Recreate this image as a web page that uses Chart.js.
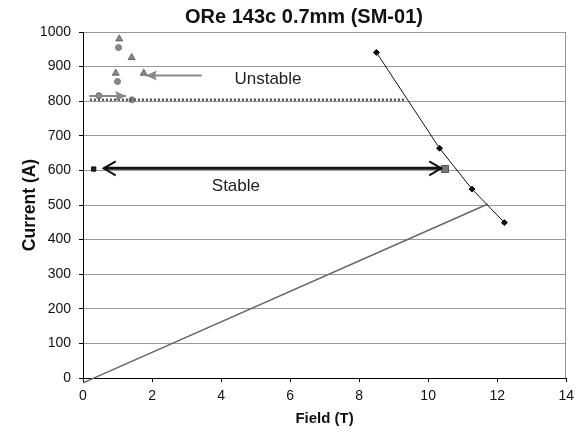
<!DOCTYPE html>
<html>
<head>
<meta charset="utf-8">
<script src="https://cdn.jsdelivr.net/npm/chart.js@4"></script>
<style>
html,body{margin:0;padding:0;background:#fff;}
#wrap{width:580px;height:436px;}
</style>
</head>
<body>
<div id="wrap"><canvas id="c" width="580" height="436"></canvas></div>
<script>
// ---- data ----
const xTicks = [0, 2, 4, 6, 8, 10, 12, 14];
const yTicks = [0, 100, 200, 300, 400, 500, 600, 700, 800, 900, 1000];

const criticalField = [8.5, 10.33, 11.27, 12.21];
const criticalCurrent = [941, 664, 546, 449];

const loadField = [0, 11.73];
const loadCurrent = [-14, 503];

const triField = [1.05, 1.41, 0.95, 1.76];
const triCurrent = [980, 926, 881, 881];

const circField = [1.03, 1.0, 0.46, 1.42];
const circCurrent = [955, 857, 816, 804];

const dottedField = [0.2, 9.3];
const dottedCurrent = [804, 804];

const stableSqField = [0.31, 10.49];
const stableSqCurrent = [604, 604];

const stableArrowField = [0.6, 10.38];
const stableArrowCurrent = [606, 606];

const unstableArrowField = [3.44, 1.82];
const unstableArrowCurrent = [874, 874];

const smallArrowField = [0.18, 1.25];
const smallArrowCurrent = [815, 815];

const labelText = ["Unstable", "Stable"];
const labelField = [5.36, 4.43];
const labelCurrent = [862, 555];

const pts = (xs, ys) => xs.map((x, i) => ({x: x, y: ys[i]}));

const FONT = "'Liberation Sans', Arial, sans-serif";

const annot = {
  id: 'annot',
  afterDatasetsDraw(chart) {
    const ctx = chart.ctx, xs = chart.scales.x, ys = chart.scales.y, a = chart.chartArea;
    ctx.save();
    // right border of plot area
    ctx.strokeStyle = '#999';
    ctx.lineWidth = 1;
    ctx.beginPath();
    ctx.moveTo(Math.round(a.right) - 0.5, a.top);
    ctx.lineTo(Math.round(a.right) - 0.5, a.bottom);
    ctx.stroke();

    // stable arrow open heads
    const sy = ys.getPixelForValue(stableArrowCurrent[0]);
    const sx0 = xs.getPixelForValue(stableArrowField[0]);
    const sx1 = xs.getPixelForValue(stableArrowField[1]);
    ctx.strokeStyle = '#111';
    ctx.lineWidth = 2;
    ctx.beginPath();
    ctx.moveTo(sx0 + 12, sy - 7); ctx.lineTo(sx0, sy); ctx.lineTo(sx0 + 12, sy + 7);
    ctx.moveTo(sx1 - 12, sy - 7); ctx.lineTo(sx1, sy); ctx.lineTo(sx1 - 12, sy + 7);
    ctx.stroke();

    // unstable arrow filled head (pointing left)
    ctx.fillStyle = '#888';
    const uy = ys.getPixelForValue(unstableArrowCurrent[1]);
    const ux = xs.getPixelForValue(unstableArrowField[1]);
    ctx.beginPath();
    ctx.moveTo(ux, uy); ctx.lineTo(ux + 11, uy - 5); ctx.lineTo(ux + 9, uy); ctx.lineTo(ux + 11, uy + 5);
    ctx.closePath(); ctx.fill();

    // small arrow filled head (pointing right)
    const ry = ys.getPixelForValue(smallArrowCurrent[1]);
    const rx = xs.getPixelForValue(smallArrowField[1]);
    ctx.beginPath();
    ctx.moveTo(rx, ry); ctx.lineTo(rx - 11, ry - 5); ctx.lineTo(rx - 9, ry); ctx.lineTo(rx - 11, ry + 5);
    ctx.closePath(); ctx.fill();

    // labels
    ctx.fillStyle = '#222';
    ctx.font = '17px ' + FONT;
    ctx.textAlign = 'center';
    ctx.textBaseline = 'middle';
    labelText.forEach((t, i) => {
      ctx.fillText(t, xs.getPixelForValue(labelField[i]), ys.getPixelForValue(labelCurrent[i]));
    });
    ctx.restore();
  }
};

new Chart(document.getElementById('c'), {
  type: 'scatter',
  data: {
    datasets: [
      {
        data: pts(loadField, loadCurrent), showLine: true, clip: false,
        borderColor: '#666', borderWidth: 1.5, pointRadius: 0
      },
      {
        data: pts(criticalField, criticalCurrent), showLine: true,
        borderColor: '#111', borderWidth: 1, pointStyle: 'rectRot', pointRadius: 3,
        backgroundColor: '#111', pointBorderColor: '#111'
      },
      {
        data: pts(dottedField, dottedCurrent), showLine: true,
        borderColor: '#555', borderWidth: 2.5, borderDash: [2, 2], pointRadius: 0
      },
      {
        data: pts(stableArrowField, stableArrowCurrent), showLine: true,
        borderColor: '#111', borderWidth: 3, pointRadius: 0
      },
      {
        data: pts(unstableArrowField, unstableArrowCurrent), showLine: true,
        borderColor: '#888', borderWidth: 2, pointRadius: 0
      },
      {
        data: pts(smallArrowField, smallArrowCurrent), showLine: true,
        borderColor: '#888', borderWidth: 2, pointRadius: 0
      },
      {
        data: pts(triField, triCurrent), pointStyle: 'triangle', pointRadius: 4,
        backgroundColor: '#888', borderColor: '#666', borderWidth: 1
      },
      {
        data: pts(circField, circCurrent), pointStyle: 'circle', pointRadius: 3,
        backgroundColor: '#888', borderColor: '#777', borderWidth: 1
      },
      {
        data: pts(stableSqField, stableSqCurrent), pointStyle: 'rect',
        pointRadius: [3, 5], backgroundColor: ['#222', '#777'], borderColor: ['#111', '#555'], borderWidth: 1
      }
    ]
  },
  options: {
    responsive: false,
    animation: false,
    events: [],
    layout: { padding: { left: 41, right: 13, top: 0, bottom: 0 } },
    plugins: {
      legend: { display: false },
      tooltip: { enabled: false },
      title: {
        display: true,
        text: 'ORe 143c 0.7mm (SM-01)',
        color: '#111',
        font: { family: FONT, size: 20, weight: 'bold' },
        padding: { top: 5, bottom: 3 }
      }
    },
    scales: {
      x: {
        type: 'linear', min: 0, max: 14,
        afterBuildTicks: s => { s.ticks = xTicks.map(v => ({value: v})); },
        afterFit: s => { s.height = 58; },
        grid: { drawOnChartArea: false, drawTicks: true, tickLength: 4, tickColor: '#000' },
        border: { display: true, color: '#000', width: 1 },
        ticks: { color: '#111', font: { family: FONT, size: 14 }, padding: 6, maxRotation: 0,
          callback: v => String(v) },
        title: { display: true, text: 'Field (T)', color: '#111',
          font: { family: FONT, size: 15, weight: 'bold' }, padding: { top: 0, bottom: 8 } }
      },
      y: {
        type: 'linear', min: 0, max: 1000,
        afterBuildTicks: s => { s.ticks = yTicks.map(v => ({value: v})); },
        afterFit: s => { s.width = 42; },
        grid: { color: '#999', lineWidth: 1, drawTicks: true, tickLength: 4, tickColor: '#000' },
        border: { display: true, color: '#000', width: 1 },
        ticks: { color: '#111', font: { family: FONT, size: 14 }, padding: 8,
          callback: v => String(v) },
        title: { display: true, text: 'Current (A)', color: '#111',
          font: { family: FONT, size: 17.5, weight: 'bold' }, padding: { top: -21.5, bottom: 0 } }
      }
    }
  },
  plugins: [annot]
});
</script>
</body>
</html>
